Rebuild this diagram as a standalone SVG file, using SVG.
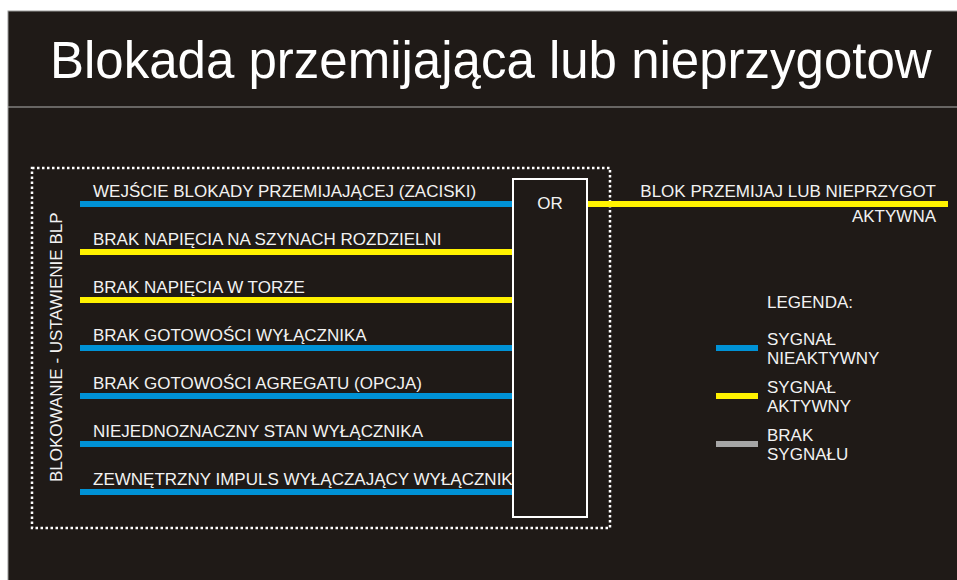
<svg xmlns="http://www.w3.org/2000/svg" width="957" height="580" viewBox="0 0 957 580">
<style>
.t{font-family:"Liberation Sans",Arial,sans-serif;fill:#f2f2f2}
.lbl{font-size:17px}
.blue{stroke:#0092d6;stroke-width:6}
.yel{stroke:#fff200;stroke-width:6}
.gray{stroke:#a6a6a6;stroke-width:6}
</style>
<rect x="0" y="0" width="957" height="580" fill="#ffffff"/>
<rect x="8" y="11" width="960" height="580" fill="#1f1a17" stroke="#9a9a9a" stroke-width="1"/>
<line x1="8" y1="107" x2="957" y2="107" stroke="#b0b0b0" stroke-width="1.2"/>
<text class="t" x="50" y="78" font-size="51" style="fill:#fff">Blokada przemijająca lub nieprzygotow</text>
<g id="frame">
<rect x="32" y="168" width="578" height="360" fill="none" stroke="#fff" stroke-width="2.5" stroke-dasharray="2.5,2.5"/>
<text class="t lbl" transform="translate(62,482) rotate(-90)">BLOKOWANIE - USTAWIENIE BLP</text>
</g>
<g id="connectors">
<line class="blue" x1="80" y1="204" x2="513" y2="204"/>
<line class="yel" x1="80" y1="252" x2="513" y2="252"/>
<line class="yel" x1="80" y1="300" x2="513" y2="300"/>
<line class="blue" x1="80" y1="348" x2="513" y2="348"/>
<line class="blue" x1="80" y1="396" x2="513" y2="396"/>
<line class="blue" x1="80" y1="444" x2="513" y2="444"/>
<line class="blue" x1="80" y1="492" x2="513" y2="492"/>
<line class="yel" x1="587" y1="204" x2="948" y2="204"/>
</g>
<g id="inputs">
<text class="t lbl" x="93" y="197">WEJŚCIE BLOKADY PRZEMIJAJĄCEJ (ZACISKI)</text>
<text class="t lbl" x="93" y="245">BRAK NAPIĘCIA NA SZYNACH ROZDZIELNI</text>
<text class="t lbl" x="93" y="293">BRAK NAPIĘCIA W TORZE</text>
<text class="t lbl" x="93" y="341">BRAK GOTOWOŚCI WYŁĄCZNIKA</text>
<text class="t lbl" x="93" y="389">BRAK GOTOWOŚCI AGREGATU (OPCJA)</text>
<text class="t lbl" x="93" y="437">NIEJEDNOZNACZNY STAN WYŁĄCZNIKA</text>
<text class="t lbl" x="93" y="485">ZEWNĘTRZNY IMPULS WYŁĄCZAJĄCY WYŁĄCZNIK</text>
</g>
<g id="or">
<rect x="513" y="179" width="74" height="338" fill="#1f1a17" stroke="#fff" stroke-width="2"/>
<text class="t lbl" x="550" y="209" text-anchor="middle">OR</text>
</g>
<g id="output">
<text class="t lbl" x="936" y="197" text-anchor="end">BLOK PRZEMIJAJ LUB NIEPRZYGOT</text>
<text class="t lbl" x="936" y="222" text-anchor="end">AKTYWNA</text>
</g>
<g id="legend">
<text class="t lbl" x="767" y="308">LEGENDA:</text>
<line class="blue" x1="716" y1="348" x2="758" y2="348"/>
<text class="t lbl" x="767" y="345">SYGNAŁ</text>
<text class="t lbl" x="767" y="364">NIEAKTYWNY</text>
<line class="yel" x1="716" y1="396" x2="758" y2="396"/>
<text class="t lbl" x="767" y="393">SYGNAŁ</text>
<text class="t lbl" x="767" y="412">AKTYWNY</text>
<line class="gray" x1="716" y1="444" x2="758" y2="444"/>
<text class="t lbl" x="767" y="441">BRAK</text>
<text class="t lbl" x="767" y="460">SYGNAŁU</text>
</g>
</svg>
